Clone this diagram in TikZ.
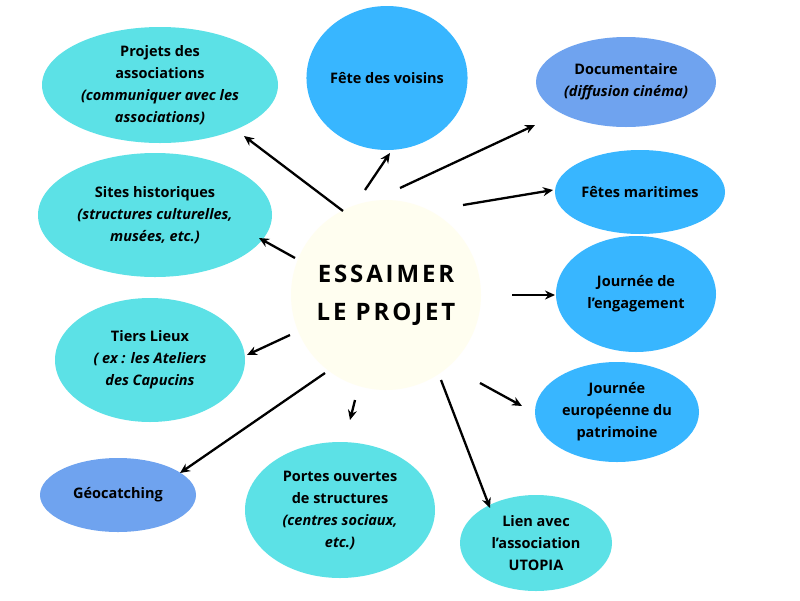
\documentclass[tikz,border=0pt]{standalone}
\usepackage{fontspec}
\setmainfont{Open Sans}
\usetikzlibrary{shapes.geometric,arrows.meta}
\definecolor{cy}{HTML}{5CE1E6}
\definecolor{bl}{HTML}{38B6FF}
\definecolor{cf}{HTML}{6FA3EF}
\definecolor{cr}{HTML}{FFFEF0}
\begin{document}
\begin{tikzpicture}[x=1pt,y=-1pt,
  bub/.style={ellipse,inner sep=0pt,align=center,font=\fontsize{14.5}{22}\selectfont\bfseries},
  arr/.style={-{Stealth[length=10pt,width=9pt]},line width=2.3pt}]
\useasboundingbox (0,0) rectangle (800,600);
\fill[white] (0,0) rectangle (800,600);
\node[circle,fill=cr,minimum size=190pt,align=center,font=\fontsize{24}{38}\selectfont\bfseries] (c) at (386,295) {\addfontfeature{LetterSpace=12}ESSAIMER\\\addfontfeature{LetterSpace=12}LE PROJET};
\node[bub,fill=cy,minimum width=236pt,minimum height=116pt] (a1) at (160,85) {Projets des\\associations\\\itshape(communiquer avec les\\\itshape associations)};
\node[bub,fill=bl,minimum width=160pt,minimum height=144pt] (a2) at (387,78) {Fête des voisins};
\node[bub,fill=cf,minimum width=180pt,minimum height=90pt] (a3) at (626,82) {Documentaire\\\itshape(diffusion cinéma)};
\node[bub,fill=bl,minimum width=170pt,minimum height=84pt] (a4) at (640,192) {Fêtes maritimes};
\node[bub,fill=bl,minimum width=160pt,minimum height=116pt] (a5) at (636,294) {Journée de\\l'engagement};
\node[bub,fill=bl,minimum width=164pt,minimum height=100pt] (a6) at (617,412) {Journée\\européenne du\\patrimoine};
\node[bub,fill=cy,minimum width=152pt,minimum height=96pt] (a7) at (536,543) {Lien avec\\l'association\\UTOPIA};
\node[bub,fill=cy,minimum width=190pt,minimum height=136pt] (a8) at (340,510) {Portes ouvertes\\de structures\\\itshape(centres sociaux,\\\itshape etc.)};
\node[bub,fill=cf,minimum width=156pt,minimum height=74pt] (a9) at (118,495) {Géocatching};
\node[bub,fill=cy,minimum width=190pt,minimum height=124pt] (a10) at (150,360) {Tiers Lieux\\\itshape( ex : les Ateliers\\\itshape des Capucins};
\node[bub,fill=cy,minimum width=234pt,minimum height=124pt] (a11) at (155,215) {Sites historiques\\\itshape(structures culturelles,\\\itshape musées, etc.)};
\coordinate (s1) at (343,211); \coordinate (e1) at (244,136);
\coordinate (s2) at (365,190); \coordinate (e2) at (390,153);
\coordinate (s3) at (400,188); \coordinate (e3) at (535,125);
\coordinate (s4) at (463,205); \coordinate (e4) at (553,190);
\coordinate (s5) at (512,295); \coordinate (e5) at (555,295);
\coordinate (s6) at (480,383); \coordinate (e6) at (522,406);
\coordinate (s7) at (441,380); \coordinate (e7) at (490,508);
\coordinate (s8) at (355,400); \coordinate (e8) at (350,420);
\coordinate (s9) at (325,373); \coordinate (e9) at (180,473);
\coordinate (s10) at (290,335); \coordinate (e10) at (247,355);
\coordinate (s11) at (295,258); \coordinate (e11) at (259,238);
\foreach \i in {1,...,11} \draw[arr] (s\i) -- (e\i);
\end{tikzpicture}
\end{document}
